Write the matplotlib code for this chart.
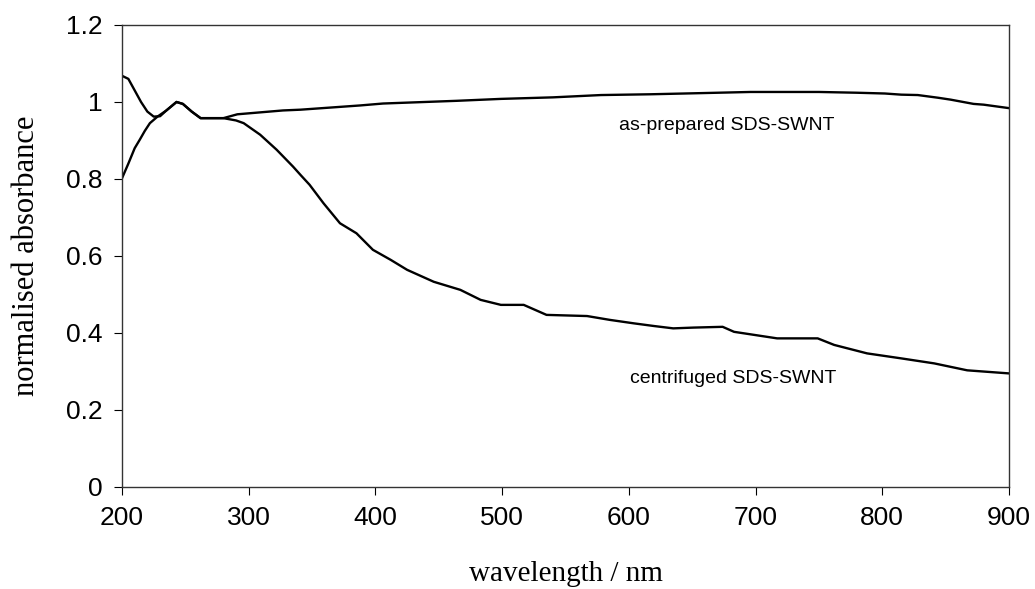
import matplotlib
matplotlib.use("Agg")
import matplotlib.pyplot as plt

# as-prepared SDS-SWNT
prep_nm = [200, 205, 210, 215, 220, 225, 230, 235, 243, 248, 255, 262, 280,
           291, 327, 341, 388, 406, 464, 499, 540, 578, 617, 657, 696, 750,
           780, 802, 815, 828, 844, 854, 872, 880, 900]
prep_abs = [1.068, 1.060, 1.030, 1.000, 0.975, 0.962, 0.963, 0.978, 1.000,
            0.995, 0.975, 0.958, 0.958, 0.968, 0.978, 0.980, 0.991, 0.996,
            1.003, 1.008, 1.012, 1.018, 1.020, 1.023, 1.026, 1.026, 1.024,
            1.022, 1.019, 1.018, 1.011, 1.006, 0.995, 0.993, 0.984]

# centrifuged SDS-SWNT
cent_nm = [200, 205, 210, 214, 218, 222, 228, 235, 243, 248, 255, 262, 280,
           290, 296, 309, 322, 335, 341, 348, 359, 372, 385, 398, 412, 425,
           446, 467, 483, 499, 517, 535, 567, 585, 604, 620, 635, 651, 674,
           683, 717, 749, 762, 788, 815, 841, 867, 900]
cent_abs = [0.802, 0.840, 0.880, 0.902, 0.925, 0.945, 0.962, 0.978, 1.000,
            0.995, 0.975, 0.958, 0.958, 0.952, 0.945, 0.915, 0.876, 0.832,
            0.810, 0.785, 0.737, 0.685, 0.659, 0.616, 0.590, 0.564, 0.533,
            0.512, 0.486, 0.473, 0.473, 0.447, 0.444, 0.434, 0.425, 0.418,
            0.412, 0.414, 0.416, 0.403, 0.386, 0.386, 0.369, 0.347, 0.334,
            0.321, 0.303, 0.295]

x_ticks = [200, 300, 400, 500, 600, 700, 800, 900]
y_ticks = [0, 0.2, 0.4, 0.6, 0.8, 1, 1.2]
y_ticklabels = ['0', '0.2', '0.4', '0.6', '0.8', '1', '1.2']

fig = plt.figure(figsize=(10.35, 5.89), dpi=100)
ax = fig.add_axes([0.1179, 0.1732, 0.857, 0.7844])

ax.plot(prep_nm, prep_abs, color='black', linewidth=1.7)
ax.plot(cent_nm, cent_abs, color='black', linewidth=1.7)

ax.text(762, 0.94, 'as-prepared SDS-SWNT', ha='right', va='center',
        fontsize=14, family='Liberation Sans')
ax.text(764, 0.282, 'centrifuged SDS-SWNT', ha='right', va='center',
        fontsize=14, family='Liberation Sans')

ax.set_xlim(200, 900)
ax.set_ylim(0, 1.2)
ax.set_xticks(x_ticks)
ax.set_yticks(y_ticks)
ax.set_yticklabels(y_ticklabels)
ax.tick_params(axis='both', direction='out', length=6, width=0.8,
               labelsize=19, pad=8)
for lab in ax.get_xticklabels() + ax.get_yticklabels():
    lab.set_family('Liberation Sans')
for sp in ax.spines.values():
    sp.set_linewidth(1.0)
    sp.set_color('#333333')

ax.set_xlabel('wavelength / nm', fontsize=21, family='Liberation Serif',
              labelpad=22)
ax.set_ylabel('normalised absorbance', fontsize=22, family='Liberation Serif',
              labelpad=18)

fig.savefig('out.png', dpi=100)
